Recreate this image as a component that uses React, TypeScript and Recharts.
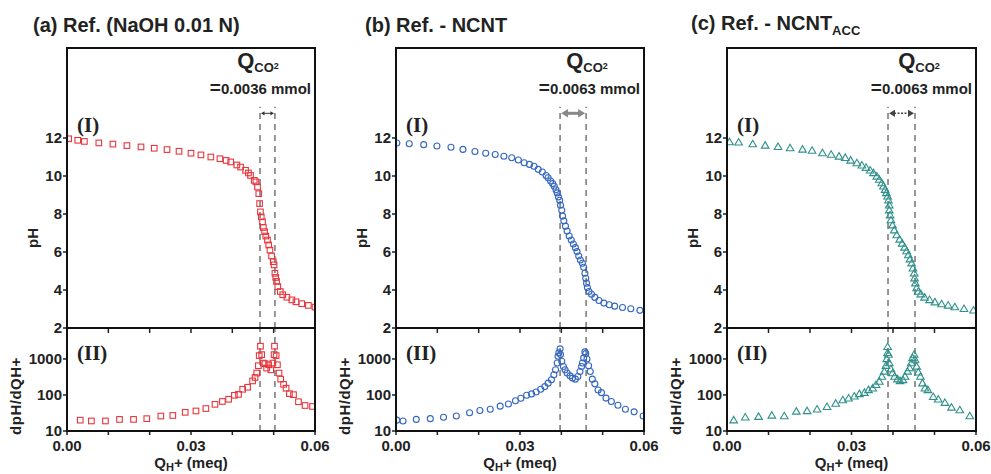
import React from 'react';
import { ScatterChart, Scatter, XAxis, YAxis, ReferenceLine } from 'recharts';

type Pt = [number, number];

const xTicks = [0, 0.01, 0.02, 0.03, 0.04, 0.05, 0.06];
const xLabelTicks = [0, 0.03, 0.06];
const phTicks = [2, 4, 6, 8, 10, 12];
const dTicks = [10, 100, 1000];

// (a) NaOH reference
const naohPH: Pt[] = [
  [0.0004, 11.96], [0.0026, 11.88], [0.0042, 11.82], [0.0077, 11.74], [0.0111, 11.68], [0.0145, 11.6],
  [0.0179, 11.53], [0.0211, 11.46], [0.0242, 11.39], [0.0271, 11.3], [0.03, 11.2], [0.0324, 11.11],
  [0.0348, 11.0], [0.037, 10.91], [0.0385, 10.82], [0.0396, 10.74], [0.0411, 10.58], [0.042, 10.47],
  [0.0432, 10.3], [0.0439, 10.16], [0.0444, 10.03], [0.0453, 9.77], [0.0457, 9.69], [0.0461, 9.42],
  [0.0464, 9.07], [0.0466, 8.55], [0.0468, 8.11], [0.047, 7.85], [0.0473, 7.59], [0.0475, 7.29],
  [0.0478, 7.07], [0.0481, 6.84], [0.0485, 6.63], [0.0488, 6.37], [0.0491, 6.1], [0.0495, 5.79],
  [0.0499, 5.49], [0.0501, 5.32], [0.0503, 4.88], [0.0505, 4.66], [0.0507, 4.45], [0.051, 4.18],
  [0.0516, 3.92], [0.0522, 3.75], [0.0532, 3.62], [0.0544, 3.48], [0.0554, 3.38], [0.0568, 3.28],
  [0.0584, 3.19], [0.06, 3.1],
];
const naohD: Pt[] = [
  [0.0032, 20], [0.0059, 19], [0.0093, 19], [0.0127, 21], [0.0161, 21], [0.0193, 22], [0.0227, 26],
  [0.0256, 27], [0.0286, 33], [0.0312, 36], [0.0336, 42], [0.0358, 55], [0.0376, 66], [0.0391, 76],
  [0.0405, 98], [0.0415, 104], [0.0425, 144], [0.0437, 164], [0.0449, 246], [0.0455, 307], [0.0459, 406],
  [0.0463, 650], [0.0465, 1240], [0.0468, 2260], [0.0471, 1320], [0.0475, 770], [0.0479, 740],
  [0.0483, 560], [0.0488, 690], [0.0493, 500], [0.0498, 770], [0.0501, 1320], [0.0502, 2260],
  [0.0506, 1240], [0.0509, 690], [0.0513, 406], [0.0517, 275], [0.0524, 198], [0.053, 154],
  [0.0538, 109], [0.0548, 102], [0.056, 65], [0.0576, 51], [0.0594, 48],
];

// (b) NCNT
const ncntPH: Pt[] = [
  [0.0002, 11.74], [0.0032, 11.7], [0.0067, 11.65], [0.0099, 11.58], [0.0133, 11.51], [0.0162, 11.4],
  [0.0191, 11.29], [0.0217, 11.2], [0.024, 11.13], [0.0261, 11.04], [0.028, 10.96], [0.0296, 10.84],
  [0.031, 10.7], [0.0323, 10.61], [0.0334, 10.51], [0.0344, 10.35], [0.0354, 10.21], [0.0363, 10.03],
  [0.0368, 9.91], [0.0374, 9.74], [0.0379, 9.6], [0.0383, 9.46], [0.0387, 9.28], [0.039, 9.11],
  [0.0393, 8.9], [0.0396, 8.72], [0.0398, 8.46], [0.0401, 8.2], [0.0403, 7.89], [0.0406, 7.64],
  [0.041, 7.36], [0.0414, 7.1], [0.0419, 6.84], [0.0424, 6.63], [0.0429, 6.42], [0.0434, 6.23],
  [0.0438, 6.02], [0.0442, 5.79], [0.0446, 5.58], [0.0451, 5.41], [0.0454, 5.2], [0.0457, 4.88],
  [0.0459, 4.62], [0.0461, 4.36], [0.0463, 4.13], [0.0467, 3.92], [0.0473, 3.78], [0.0481, 3.61],
  [0.0491, 3.45], [0.0503, 3.31], [0.0516, 3.22], [0.0529, 3.15], [0.0548, 3.08], [0.0568, 3.01],
  [0.059, 2.93],
];
const ncntD: Pt[] = [
  [0.0002, 20], [0.0017, 19], [0.0049, 21], [0.0083, 22], [0.0115, 24], [0.0146, 26], [0.0178, 32],
  [0.0203, 37], [0.0228, 40], [0.0252, 49], [0.0272, 56], [0.0289, 69], [0.0302, 81], [0.0316, 98],
  [0.0328, 107], [0.0339, 121], [0.035, 144], [0.036, 171], [0.0368, 213], [0.0376, 264], [0.0382, 363],
  [0.0386, 500], [0.039, 770], [0.0392, 1190], [0.0394, 1480], [0.0397, 1910], [0.0398, 1320],
  [0.0401, 860], [0.0405, 620], [0.0409, 500], [0.0414, 406], [0.0421, 340], [0.0427, 294],
  [0.0434, 275], [0.044, 325], [0.0445, 450], [0.0449, 620], [0.0451, 770], [0.0454, 1070],
  [0.0457, 1570], [0.0459, 1410], [0.0462, 1000], [0.0466, 650], [0.047, 450], [0.0475, 275],
  [0.0481, 204], [0.0489, 138], [0.0497, 116], [0.0508, 82], [0.0521, 66], [0.0537, 52],
  [0.0555, 40], [0.0576, 34], [0.0598, 26],
];

// (c) NCNT_ACC
const accPH: Pt[] = [
  [0.0006, 11.79], [0.0028, 11.77], [0.0062, 11.68], [0.0092, 11.61], [0.0123, 11.54], [0.0152, 11.47],
  [0.0182, 11.4], [0.0205, 11.34], [0.023, 11.21], [0.0251, 11.13], [0.027, 11.03], [0.0285, 10.96],
  [0.0298, 10.82], [0.0313, 10.68], [0.0325, 10.56], [0.0335, 10.44], [0.0345, 10.3], [0.0353, 10.16],
  [0.0361, 9.98], [0.0367, 9.81], [0.0373, 9.63], [0.0377, 9.46], [0.0381, 9.28], [0.0384, 9.11],
  [0.0387, 8.93], [0.0389, 8.72], [0.0391, 8.46], [0.0391, 8.2], [0.0393, 7.94], [0.0395, 7.68],
  [0.0399, 7.41], [0.0403, 7.15], [0.0409, 6.89], [0.0416, 6.66], [0.0422, 6.45], [0.0428, 6.24],
  [0.0433, 6.05], [0.0437, 5.84], [0.0441, 5.62], [0.0445, 5.41], [0.0448, 5.14], [0.0451, 4.88],
  [0.0452, 4.62], [0.0454, 4.36], [0.0457, 4.1], [0.0461, 3.92], [0.0467, 3.78], [0.0476, 3.61],
  [0.0488, 3.48], [0.0501, 3.36], [0.0517, 3.26], [0.0533, 3.19], [0.0549, 3.1], [0.0571, 3.01],
  [0.0594, 2.93],
];
const accD: Pt[] = [
  [0.0016, 20], [0.0044, 24], [0.0076, 25], [0.0108, 27], [0.0138, 26], [0.0167, 35], [0.0193, 36],
  [0.0217, 40], [0.0241, 47], [0.0262, 58], [0.0279, 72], [0.0293, 81], [0.0307, 92], [0.0319, 107],
  [0.0331, 116], [0.0341, 138], [0.0351, 154], [0.0359, 191], [0.0367, 236], [0.0373, 325],
  [0.0379, 450], [0.0383, 650], [0.0385, 1000], [0.0387, 1480], [0.0387, 2170], [0.0389, 1320],
  [0.0391, 770], [0.0395, 525], [0.0399, 406], [0.0404, 325], [0.0411, 275], [0.0417, 246],
  [0.0424, 262], [0.0429, 325], [0.0435, 450], [0.044, 560], [0.0444, 770], [0.0447, 1070],
  [0.0451, 1320], [0.0453, 960], [0.0457, 620], [0.0461, 425], [0.0466, 325], [0.0471, 213],
  [0.0477, 154], [0.0484, 138], [0.0497, 89], [0.0509, 76], [0.0525, 61], [0.0541, 45],
  [0.0561, 38], [0.0585, 26],
];

// CO2 window edges (dashed lines)
const naohEdges = [0.0467, 0.0503];
const ncntEdges = [0.0397, 0.046];
const accEdges = [0.0388, 0.0453];

const FONT = '"Liberation Sans", Arial, sans-serif';
const SERIF = '"Liberation Serif", "Times New Roman", serif';
const TOP_Y = 48;
const MID_Y = 328;
const BOT_Y = 431;

const tickStyle = { fontSize: 15, fontWeight: 700, fill: '#222', fontFamily: FONT };

function makeMarker(kind: string, color: string) {
  return (p: any) => {
    const { cx, cy } = p;
    if (cx == null || cy == null) return <g />;
    if (kind === 'square')
      return <rect x={cx - 2.8} y={cy - 2.8} width={5.6} height={5.6} fill="none" stroke={color} strokeWidth={1.1} />;
    if (kind === 'circle') return <circle cx={cx} cy={cy} r={3} fill="none" stroke={color} strokeWidth={1.1} />;
    return (
      <polygon
        points={`${cx},${cy - 3.8} ${cx + 3.8},${cy + 2.7} ${cx - 3.8},${cy + 2.7}`}
        fill="none"
        stroke={color}
        strokeWidth={1.1}
      />
    );
  };
}

function arrowShape(color: string, width: number, head: number, dashed: boolean) {
  return (p: any) => {
    const { x1, y1, x2 } = p;
    if (x1 == null) return <g />;
    return (
      <g>
        <line x1={x1 + head} y1={y1} x2={x2 - head} y2={y1} stroke={color} strokeWidth={width}
          strokeDasharray={dashed ? '2 1.5' : undefined} />
        <polygon points={`${x1 + 1},${y1} ${x1 + 1 + head},${y1 - head * 0.6} ${x1 + 1 + head},${y1 + head * 0.6}`} fill={color} />
        <polygon points={`${x2 - 1},${y1} ${x2 - 1 - head},${y1 - head * 0.6} ${x2 - 1 - head},${y1 + head * 0.6}`} fill={color} />
      </g>
    );
  };
}

type Panel = {
  label: React.ReactNode;
  titleX: number;
  left: number;
  width: number;
  color: string;
  kind: string;
  ph: Pt[];
  d: Pt[];
  edges: number[];
  amount: string;
  arrowColor: string;
  arrowWidth: number;
  arrowHead: number;
  arrowDashed: boolean;
};

const panels: Panel[] = [
  {
    label: <>(a) Ref. (NaOH 0.01 N)</>, titleX: 33, left: 67, width: 248, color: '#e8363d', kind: 'square',
    ph: naohPH, d: naohD, edges: naohEdges, amount: '0.0036 mmol',
    arrowColor: '#333', arrowWidth: 1, arrowHead: 3.5, arrowDashed: false,
  },
  {
    label: <>(b) Ref. - NCNT</>, titleX: 365, left: 396, width: 248, color: '#3567c0', kind: 'circle',
    ph: ncntPH, d: ncntD, edges: ncntEdges, amount: '0.0063 mmol',
    arrowColor: '#888', arrowWidth: 3, arrowHead: 7, arrowDashed: false,
  },
  {
    label: <>(c) Ref. - NCNT<sub style={{ fontSize: 13 }}>ACC</sub></>, titleX: 691, left: 727, width: 249,
    color: '#2f918a', kind: 'triangle', ph: accPH, d: accD, edges: accEdges, amount: '0.0063 mmol',
    arrowColor: '#444', arrowWidth: 1.5, arrowHead: 6, arrowDashed: true,
  },
];

const abs = (x: number, y: number, extra: React.CSSProperties = {}): React.CSSProperties => ({
  position: 'absolute',
  left: x,
  top: y,
  whiteSpace: 'nowrap',
  lineHeight: 1,
  fontFamily: FONT,
  fontWeight: 700,
  color: '#222',
  ...extra,
});

function PanelView({ p }: { p: Panel }) {
  const right = p.left + p.width;
  const mLeft = 20;
  const mRight = 25;
  const yw = 40;
  const phData = p.ph.map(([x, y]) => ({ x, y }));
  const dData = p.d.map(([x, y]) => ({ x, y }));
  const shape = makeMarker(p.kind, p.color);
  const xFmt = (v: number) => (xLabelTicks.some((t) => Math.abs(t - v) < 1e-9) ? v.toFixed(2) : '');
  const dash = { stroke: '#8c8c8c', strokeWidth: 1.8, strokeDasharray: '6 5' };
  const tickLine = { stroke: '#222', strokeWidth: 1.5 };

  return (
    <>
      {/* title */}
      <div style={abs(p.titleX, 25, { fontSize: 20, transform: 'translateY(-50%)' })}>{p.label}</div>

      {/* pH panel */}
      <div style={{ position: 'absolute', left: p.left - mLeft - yw, top: TOP_Y - 5 }}>
        <ScatterChart width={mLeft + yw + p.width + mRight} height={5 + (MID_Y - TOP_Y) + 10}
          margin={{ top: 5, right: mRight, left: mLeft, bottom: 0 }}>
          <XAxis type="number" dataKey="x" domain={[0, 0.06]} ticks={xTicks} tickFormatter={() => ''}
            height={10} tickSize={5} axisLine={false} tickLine={tickLine} allowDataOverflow />
          <YAxis type="number" dataKey="y" domain={[2, 2 + (MID_Y - TOP_Y) / 19]} ticks={phTicks} width={yw}
            tick={tickStyle} tickSize={4} tickMargin={1} axisLine={false} tickLine={tickLine} allowDataOverflow />
          {p.edges.map((e) => (
            <ReferenceLine key={e} segment={[{ x: e, y: 2 }, { x: e, y: 13.65 }]} {...dash} />
          ))}
          <ReferenceLine segment={[{ x: p.edges[0], y: 13.3 }, { x: p.edges[1], y: 13.3 }]}
            shape={arrowShape(p.arrowColor, p.arrowWidth, p.arrowHead, p.arrowDashed)} />
          <Scatter data={phData} shape={shape} isAnimationActive={false} />
        </ScatterChart>
      </div>

      {/* derivative panel */}
      <div style={{ position: 'absolute', left: p.left - mLeft - yw, top: MID_Y - 5 }}>
        <ScatterChart width={mLeft + yw + p.width + mRight} height={5 + (BOT_Y - MID_Y) + 25}
          margin={{ top: 5, right: mRight, left: mLeft, bottom: 0 }}>
          <XAxis type="number" dataKey="x" domain={[0, 0.06]} ticks={xTicks} tickFormatter={xFmt}
            height={25} tick={tickStyle} tickSize={4} tickMargin={5} axisLine={false}
            tickLine={tickLine} allowDataOverflow interval={0} />
          <YAxis type="number" dataKey="y" scale="log" domain={[10, 7240]} ticks={dTicks} width={yw}
            tick={tickStyle} tickSize={4} tickMargin={1} axisLine={false} tickLine={tickLine} allowDataOverflow />
          {p.edges.map((e) => (
            <ReferenceLine key={e} x={e} {...dash} />
          ))}
          <Scatter data={dData} shape={shape} isAnimationActive={false} />
        </ScatterChart>
      </div>

      {/* frames */}
      <div style={{ position: 'absolute', left: p.left - 1, top: TOP_Y - 1, width: p.width + 2,
        height: MID_Y - TOP_Y + 2, border: '2px solid #111', boxSizing: 'border-box', pointerEvents: 'none' }} />
      <div style={{ position: 'absolute', left: p.left - 1, top: MID_Y - 1, width: p.width + 2,
        height: BOT_Y - MID_Y + 2, border: '2px solid #111', boxSizing: 'border-box', pointerEvents: 'none' }} />

      {/* annotations */}
      <div style={abs(right - 57, 62, { fontSize: 22, transform: 'translate(-50%,-50%)' })}>
        Q<span style={{ fontSize: 13, verticalAlign: -4 }}>CO<span style={{ fontSize: 9, verticalAlign: 3 }}>2</span></span>
      </div>
      <div style={abs(right - 4, 87, { fontSize: 15, transform: 'translate(-100%,-50%)' })}>
        <span style={{ fontSize: 19 }}>=</span>{p.amount}
      </div>
      <div style={abs(p.left + 10, 125, { fontSize: 21, fontFamily: SERIF, transform: 'translateY(-50%)' })}>(I)</div>
      <div style={abs(p.left + 10, 353, { fontSize: 21, fontFamily: SERIF, transform: 'translateY(-50%)' })}>(II)</div>

      {/* axis titles */}
      <div style={abs(p.left - 35, 238, { fontSize: 15, transform: 'translate(-50%,-50%) rotate(-90deg)' })}>pH</div>
      <div style={abs(p.left - 52, 396, { fontSize: 15, letterSpacing: 0.5,
        transform: 'translate(-50%,-50%) rotate(-90deg)' })}>dpH/dQH+</div>
      <div style={abs(p.left + p.width / 2, 464, { fontSize: 15, transform: 'translate(-50%,-50%)' })}>
        Q<span style={{ fontSize: 11, verticalAlign: -3 }}>H</span>+ (meq)
      </div>
    </>
  );
}

export default function App() {
  return (
    <div style={{ position: 'absolute', left: 0, top: 0, width: 991, height: 474, background: '#fff', overflow: 'hidden' }}>
      {panels.map((p, i) => (
        <PanelView key={i} p={p} />
      ))}
    </div>
  );
}
